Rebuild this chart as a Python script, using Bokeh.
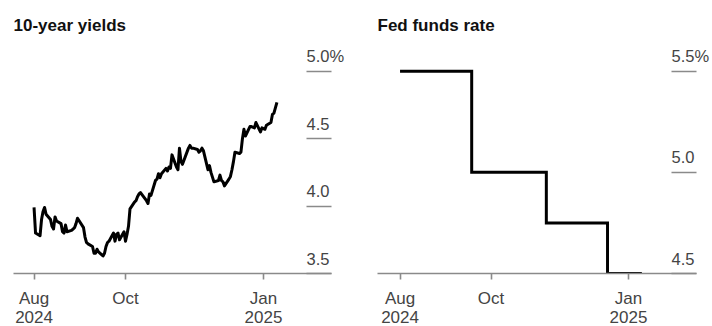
import pandas as pd
from bokeh.plotting import figure
from bokeh.models import FixedTicker, LinearAxis, DatetimeAxis, Range1d
from bokeh.layouts import row
from bokeh.embed import file_html
from bokeh.resources import INLINE

# ---------------- data ----------------
yield_dates = [
    "2024-08-01", "2024-08-02", "2024-08-05", "2024-08-06", "2024-08-07", "2024-08-08",
    "2024-08-09", "2024-08-12", "2024-08-13", "2024-08-14", "2024-08-15", "2024-08-16",
    "2024-08-19", "2024-08-20", "2024-08-21", "2024-08-22", "2024-08-23", "2024-08-26",
    "2024-08-27", "2024-08-28", "2024-08-29", "2024-08-30", "2024-09-03", "2024-09-04",
    "2024-09-05", "2024-09-06", "2024-09-09", "2024-09-10", "2024-09-11", "2024-09-12",
    "2024-09-13", "2024-09-16", "2024-09-17", "2024-09-18", "2024-09-19", "2024-09-20",
    "2024-09-23", "2024-09-24", "2024-09-25", "2024-09-26", "2024-09-27", "2024-09-30",
    "2024-10-01", "2024-10-02", "2024-10-03", "2024-10-04", "2024-10-07", "2024-10-08",
    "2024-10-09", "2024-10-10", "2024-10-11", "2024-10-15", "2024-10-16", "2024-10-17",
    "2024-10-18", "2024-10-21", "2024-10-22", "2024-10-23", "2024-10-24", "2024-10-25",
    "2024-10-28", "2024-10-29", "2024-10-30", "2024-10-31", "2024-11-01", "2024-11-04",
    "2024-11-05", "2024-11-06", "2024-11-07", "2024-11-08", "2024-11-12", "2024-11-13",
    "2024-11-14", "2024-11-15", "2024-11-18", "2024-11-19", "2024-11-20", "2024-11-21",
    "2024-11-22", "2024-11-25", "2024-11-26", "2024-11-27", "2024-11-29", "2024-12-02",
    "2024-12-03", "2024-12-04", "2024-12-05", "2024-12-06", "2024-12-09", "2024-12-10",
    "2024-12-11", "2024-12-12", "2024-12-13", "2024-12-16", "2024-12-17", "2024-12-18",
    "2024-12-19", "2024-12-20", "2024-12-23", "2024-12-24", "2024-12-26", "2024-12-27",
    "2024-12-30", "2024-12-31", "2025-01-02", "2025-01-03", "2025-01-06", "2025-01-07",
    "2025-01-08", "2025-01-10",
]
yield_values = [
    3.99, 3.80, 3.78, 3.90, 3.96, 3.99,
    3.94, 3.90, 3.85, 3.83, 3.92, 3.89,
    3.87, 3.81, 3.80, 3.86, 3.81, 3.82,
    3.83, 3.84, 3.87, 3.91, 3.84, 3.77,
    3.73, 3.72, 3.70, 3.65, 3.65, 3.68,
    3.66, 3.63, 3.65, 3.70, 3.73, 3.74,
    3.80, 3.74, 3.79, 3.80, 3.75, 3.81,
    3.74, 3.79, 3.85, 3.98, 4.03, 4.04,
    4.07, 4.09, 4.10, 4.04, 4.02, 4.09,
    4.08, 4.19, 4.20, 4.24, 4.21, 4.24,
    4.28, 4.26, 4.29, 4.28, 4.38, 4.29,
    4.27, 4.43, 4.33, 4.31, 4.43, 4.45,
    4.43, 4.43, 4.42, 4.40, 4.41, 4.43,
    4.41, 4.27, 4.30, 4.25, 4.18, 4.19,
    4.23, 4.19, 4.18, 4.15, 4.20, 4.22,
    4.27, 4.33, 4.40, 4.39, 4.40, 4.50,
    4.57, 4.52, 4.59, 4.59, 4.58, 4.62,
    4.55, 4.58, 4.57, 4.60, 4.62, 4.68,
    4.69, 4.77,
]

fed_dates = ["2024-08-01", "2024-09-18", "2024-11-07", "2024-12-18", "2025-01-10"]
fed_values = [5.50, 5.00, 4.75, 4.50, 4.50]

x_tick_dates = ["2024-08-01", "2024-10-01", "2025-01-01"]
x_tick_months = ["Aug", "Oct", "Jan"]
x_tick_years = ["2024", "", "2025"]

yield_ticks = [3.5, 4.0, 4.5, 5.0]
yield_tick_labels = ["3.5", "4.0", "4.5", "5.0%"]
fed_ticks = [4.5, 5.0, 5.5]
fed_tick_labels = ["4.5", "5.0", "5.5%"]

titles = ["10-year yields", "Fed funds rate"]

# ---------------- styling ----------------
FONT = "Liberation Sans"
AXIS_GRAY = "#8a8a8a"
LABEL_GRAY = "#444444"
DAY_MS = 86400000
LABEL_LIFT_PX = 15      # y-tick labels sit above their tick marks
TICK_LEN = 25


def ms(d):
    return int(pd.Timestamp(d).value // 10**6)


def style_x_axis(ax, labels, tick_ms, tick_out, standoff, line_color):
    ax.ticker = FixedTicker(ticks=tick_ms)
    ax.major_label_overrides = {t: lab for t, lab in zip(tick_ms, labels)}
    ax.axis_line_color = line_color
    ax.axis_line_width = 1.6
    ax.major_tick_line_color = AXIS_GRAY if tick_out else None
    ax.major_tick_line_width = 1.6
    ax.major_tick_in = 0
    ax.major_tick_out = tick_out
    ax.minor_tick_line_color = None
    ax.major_label_standoff = standoff
    ax.major_label_text_font = FONT
    ax.major_label_text_font_size = "17px"
    ax.major_label_text_color = LABEL_GRAY


def make_panel(title, xs, ys, is_step, yticks, ylabels, x_days, y_rng, border_l, border_r):
    base = ms("2024-08-01")
    x0 = base + x_days[0] * DAY_MS
    x1 = base + x_days[1] * DAY_MS
    p = figure(
        width=356, height=326,
        x_axis_type="datetime",
        x_range=Range1d(x0, x1), y_range=Range1d(*y_rng),
        y_axis_location=None,
        output_backend="svg", toolbar_location=None,
        min_border_left=border_l, min_border_right=border_r,
        min_border_top=45, min_border_bottom=53,
        title=title,
    )
    p.outline_line_color = None
    p.grid.visible = False
    p.background_fill_color = "white"
    p.border_fill_color = "white"

    p.title.text_font = FONT
    p.title.text_font_size = "17px"
    p.title.text_font_style = "bold"
    p.title.text_color = "#111111"
    p.title.offset = 0
    p.title.standoff = 21

    tick_ms = [ms(d) for d in x_tick_dates]
    style_x_axis(p.xaxis[0], x_tick_months, tick_ms, 6, 9, AXIS_GRAY)
    year_axis = DatetimeAxis()
    style_x_axis(year_axis, x_tick_years, tick_ms, 0, 0, None)
    p.add_layout(year_axis, "below")

    # tick marks of the value axis (inward from the right edge)
    tick_axis = LinearAxis(
        ticker=FixedTicker(ticks=yticks),
        major_label_overrides={t: "" for t in yticks},
        axis_line_color=None,
        major_tick_in=TICK_LEN, major_tick_out=0,
        major_tick_line_color=AXIS_GRAY, major_tick_line_width=1.6,
        minor_tick_line_color=None,
        major_label_standoff=0,
    )
    p.add_layout(tick_axis, "right")

    # value labels, lifted above their tick marks
    scale = 228 / (y_rng[1] - y_rng[0])  # px per unit
    lifted = [t + LABEL_LIFT_PX / scale for t in yticks]
    label_axis = LinearAxis(
        ticker=FixedTicker(ticks=lifted),
        major_label_overrides={t: lab for t, lab in zip(lifted, ylabels)},
        axis_line_color=None,
        major_tick_in=0, major_tick_out=0,
        major_tick_line_color=None,
        minor_tick_line_color=None,
        major_label_standoff=-TICK_LEN,
        major_label_text_font=FONT,
        major_label_text_font_size="16.5px",
        major_label_text_color=LABEL_GRAY,
        major_label_text_align="left",
        major_label_text_baseline="middle",
    )
    p.add_layout(label_axis, "right")

    xms = [ms(d) for d in xs]
    if is_step:
        p.step(xms, ys, mode="after", line_color="black", line_width=3, line_join="miter")
    else:
        p.line(xms, ys, line_color="black", line_width=3, line_join="round")
    return p


p1 = make_panel(titles[0], yield_dates, yield_values, False, yield_ticks, yield_tick_labels,
                (-13.7, 198.4), (3.5, 3.5 + 228 / 134.8), 13, 25)
p2 = make_panel(titles[1], fed_dates, fed_values, True, fed_ticks, fed_tick_labels,
                (-15.1, 198.6), (4.5, 4.5 + 228 / 202.3), 21, 15)

layout = row(p1, p2, spacing=0)
open("out.html", "w").write(file_html(layout, INLINE))
